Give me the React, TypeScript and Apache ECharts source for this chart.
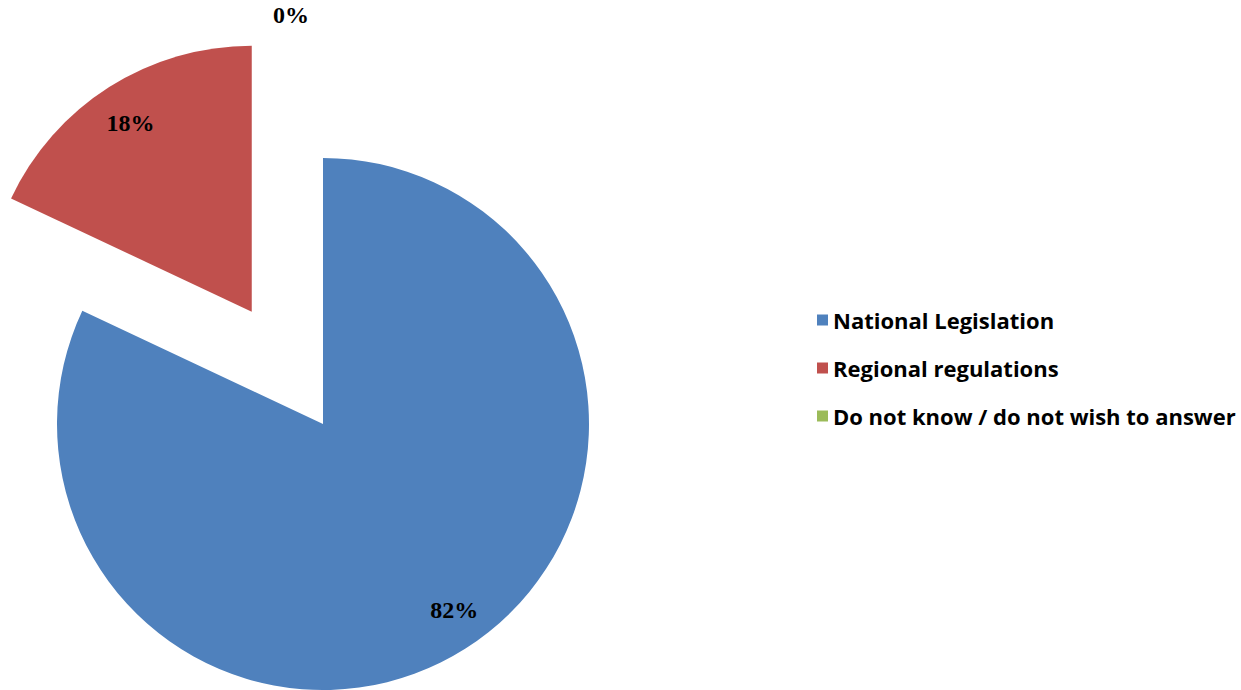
import React, { useEffect, useRef } from "react";
import * as echarts from "echarts";

const categories = ["National Legislation", "Regional regulations", "Do not know / do not wish to answer"];
const values = [82, 18, 0];
const colors = ["#4F81BD", "#C0504D", "#9BBB59"];
const explodedIndex = 1;

export default function App() {
  const ref = useRef<HTMLDivElement>(null);
  useEffect(() => {
    if (!ref.current) return;
    const chart = echarts.init(ref.current, null, { renderer: "svg" });
    const center = [323, 424];
    const radius = 266;
    const offset = 133;
    const labelFont = {
      fontFamily: "Liberation Serif",
      fontWeight: "bold" as const,
      fontSize: 24,
      color: "#000",
    };
    const labelOffsets = [[7, -10], [3, 7], [-32, -177]];
    const mainData = categories.map((name, i) => ({
      name,
      value: values[i],
      selected: i === explodedIndex,
      itemStyle: { color: colors[i] },
    }));
    const labelData = categories.map((name, i) => ({
      name,
      value: values[i],
      selected: i === explodedIndex,
      label: { offset: labelOffsets[i] },
      select: { label: { offset: labelOffsets[i] } },
    }));
    chart.setOption({
      animation: false,
      backgroundColor: "#fff",
      legend: {
        orient: "vertical",
        left: 812,
        top: 303,
        itemWidth: 11,
        itemHeight: 11,
        itemGap: 24,
        icon: "rect",
        data: categories,
        textStyle: {
          fontFamily: "Open Sans",
          fontWeight: "bold",
          fontSize: 22,
          lineHeight: 24,
          color: "#000",
          padding: [0, 0, 0, 0],
        },
        selectedMode: false,
      },
      series: [
        {
          type: "pie",
          center,
          radius,
          startAngle: 90,
          clockwise: true,
          selectedMode: "single",
          selectedOffset: offset,
          label: { show: false },
          labelLine: { show: false },
          emphasis: { disabled: true },
          silent: true,
          data: mainData,
        },
        {
          type: "pie",
          center,
          radius: radius * 1.72,
          startAngle: 90,
          clockwise: true,
          selectedMode: "single",
          selectedOffset: offset,
          silent: true,
          emphasis: { disabled: true },
          itemStyle: { color: "rgba(0,0,0,0)" },
          label: {
            show: true,
            position: "inside",
            formatter: (p: any) => Math.round(p.value) + "%",
            ...labelFont,
          },
          labelLine: { show: false },
          data: labelData,
        },
      ],
    });
    return () => chart.dispose();
  }, []);
  return (
    <div
      ref={ref}
      style={{ position: "fixed", left: 0, top: 0, width: 1241, height: 690 }}
    />
  );
}
